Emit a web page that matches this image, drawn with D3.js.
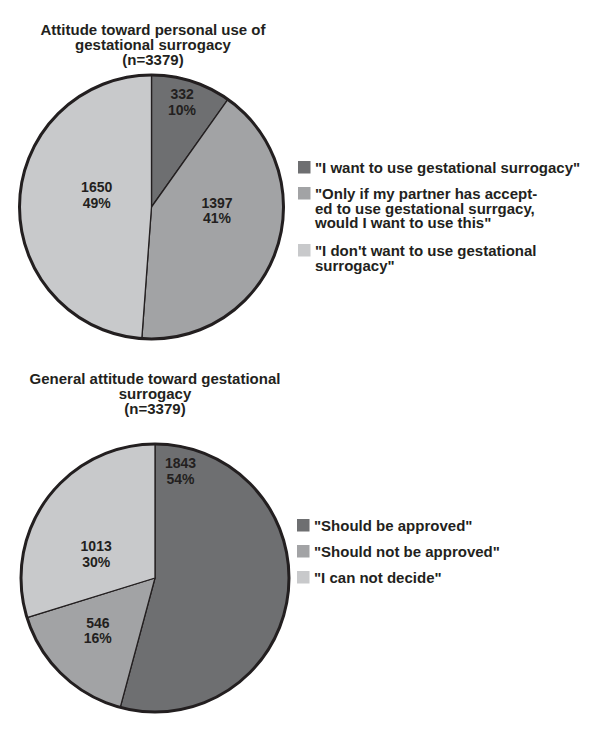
<!DOCTYPE html>
<html>
<head>
<meta charset="utf-8">
<script src="https://cdn.jsdelivr.net/npm/d3@7"></script>
<style>
  html, body { margin: 0; padding: 0; background: #ffffff; }
  svg { display: block; }
  text { font-family: "Liberation Sans", Arial, Helvetica, sans-serif; font-weight: bold; fill: #231f20; }
</style>
</head>
<body>
<svg id="chart" width="600" height="736"></svg>
<script>
// ---------- data ----------
const personalTitle = ["Attitude toward personal use of", "gestational surrogacy", "(n=3379)"];
const personalCategories = [
  ["\"I want to use gestational surrogacy\""],
  ["\"Only if my partner has accept-", "ed to use gestational surrgacy,", "would I want to use this\""],
  ["\"I don't want to use gestational", "surrogacy\""]
];
const personalCounts = [332, 1397, 1650];
const personalPercents = ["10%", "41%", "49%"];

const generalTitle = ["General attitude toward gestational", "surrogacy", "(n=3379)"];
const generalCategories = [
  ["\"Should be approved\""],
  ["\"Should not be approved\""],
  ["\"I can not decide\""]
];
const generalCounts = [1843, 546, 1013];
const generalPercents = ["54%", "16%", "30%"];

const sliceColors = ["#6e6f71", "#a2a3a5", "#c8c9cb"];

// ---------- layout (positions kept apart from the data) ----------
const panels = [
  {
    title: personalTitle, cats: personalCategories, counts: personalCounts, pcts: personalPercents,
    cx: 151.5, cy: 207, r: 132, titleX: 153, titleY: 35,
    // label placement: [angle in degrees clockwise from 12 o'clock, fraction of radius]
    labelPlace: [[16.2, 0.83], [93.1, 0.497], [282.2, 0.425]],
    legendX: 298, legendFirstBaseline: [173, 199, 256]
  },
  {
    title: generalTitle, cats: generalCategories, counts: generalCounts, pcts: generalPercents,
    cx: 155, cy: 578, r: 134, titleX: 155, titleY: 384,
    labelPlace: [[13.4, 0.82], [227.4, 0.58], [292.4, 0.475]],
    legendX: 297, legendFirstBaseline: [531, 557, 583]
  }
];

const svg = d3.select("#chart");
const titleSize = 15, titleLH = 15;
const labelSize = 14, labelLH = 15.5;
const legendSize = 15, legendLH = 14.5;
const sq = 12.5;

panels.forEach(p => {
  // title
  const t = svg.append("text")
    .attr("text-anchor", "middle")
    .style("font-size", titleSize + "px");
  p.title.forEach((line, i) => {
    t.append("tspan").attr("x", p.titleX).attr("y", p.titleY + i * titleLH).text(line);
  });

  const g = svg.append("g").attr("transform", `translate(${p.cx},${p.cy})`);
  const pie = d3.pie().sort(null).value(d => d)(p.counts);
  const arc = d3.arc().innerRadius(0).outerRadius(p.r);

  g.selectAll("path.slice")
    .data(pie)
    .join("path")
    .attr("class", "slice")
    .attr("d", arc)
    .attr("fill", (d, i) => sliceColors[i])
    .attr("stroke", "#231f20")
    .attr("stroke-width", 1.3)
    .attr("stroke-linejoin", "round");

  // outer rim
  g.append("circle")
    .attr("r", p.r)
    .attr("fill", "none")
    .attr("stroke", "#231f20")
    .attr("stroke-width", 3);

  // slice labels (two-line block centred on the placement point)
  const capH = labelSize * 0.716;
  pie.forEach((d, i) => {
    const [angDeg, frac] = p.labelPlace[i];
    const a = angDeg * Math.PI / 180;
    const x = Math.sin(a) * frac * p.r;
    const yc = -Math.cos(a) * frac * p.r;
    const b1 = yc - (labelLH - capH) / 2;
    const lbl = g.append("text")
      .attr("text-anchor", "middle")
      .style("font-size", labelSize + "px");
    lbl.append("tspan").attr("x", x).attr("y", b1).text(d.data);
    lbl.append("tspan").attr("x", x).attr("y", b1 + labelLH).text(p.pcts[i]);
  });

  // legend
  p.cats.forEach((lines, i) => {
    const by = p.legendFirstBaseline[i];
    svg.append("rect")
      .attr("x", p.legendX)
      .attr("y", by + 0.5 - sq)
      .attr("width", sq)
      .attr("height", sq)
      .attr("fill", sliceColors[i]);
    const lt = svg.append("text").style("font-size", legendSize + "px");
    lines.forEach((line, j) => {
      lt.append("tspan").attr("x", p.legendX + 17).attr("y", by + j * legendLH).text(line);
    });
  });
});
</script>
</body>
</html>
